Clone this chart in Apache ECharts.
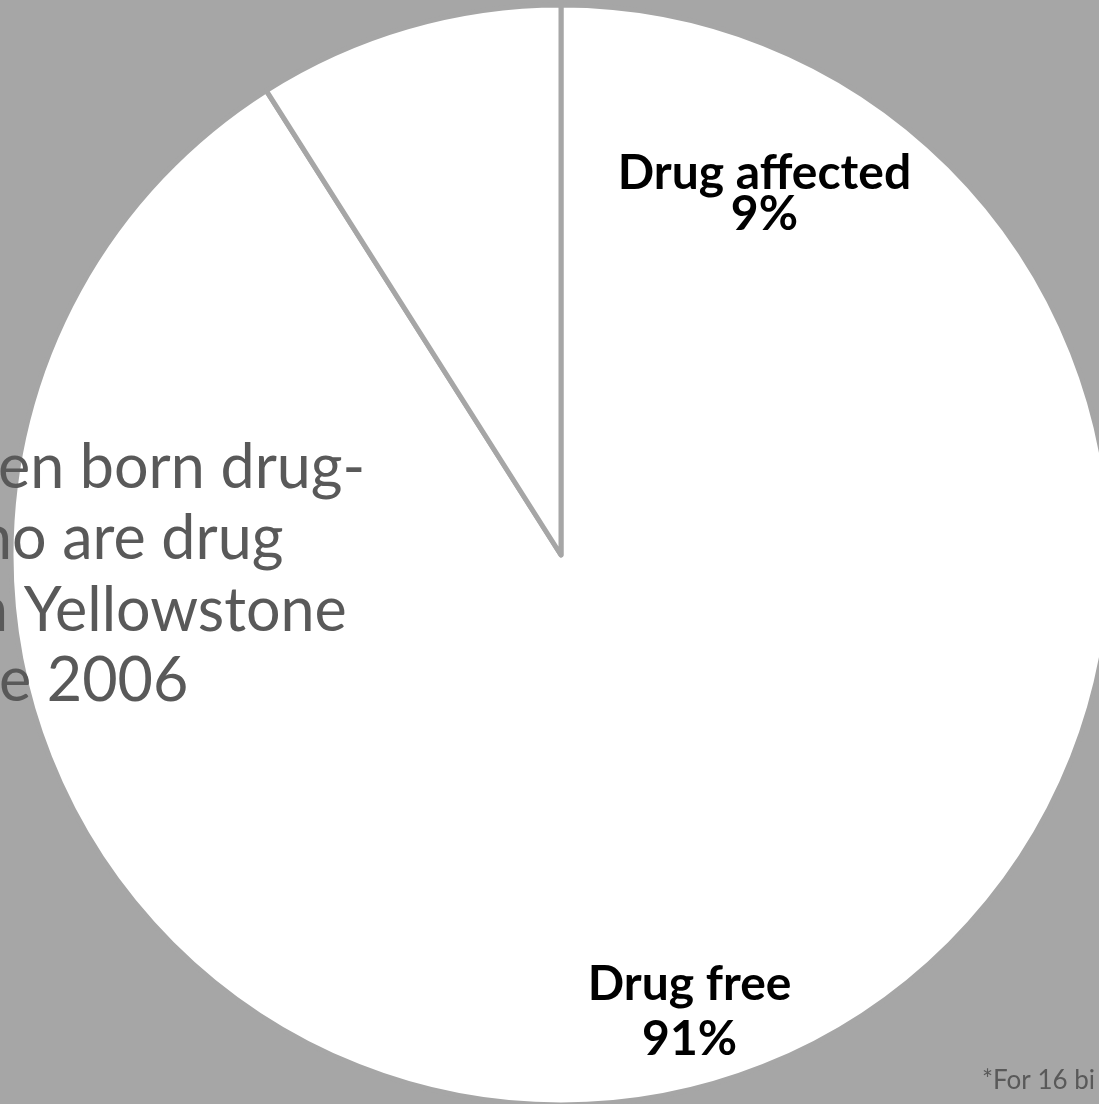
<!DOCTYPE html>
<html>
<head>
<meta charset="utf-8">
<title>Drug free births</title>
<script src="https://cdn.jsdelivr.net/npm/echarts@6/dist/echarts.min.js"></script>
<style>
  html, body { margin: 0; padding: 0; background: #a6a6a6; }
  #chart { width: 1099px; height: 1104px; }
</style>
</head>
<body>
<div id="chart"></div>
<script>
// Slices, drawn clockwise from 12 o'clock
const categories = ['Drug free', 'Drug affected'];
const shares = [91, 9];

// Heading lines (left side) and footnote
const headingLines = ['en born drug-', 'ho are drug', 'n Yellowstone', 'e 2006'];
const footnote = '*For 16 bi';

const BG = '#a6a6a6';
const INK = '#595959';

// Per-slice label placement relative to the slice's inner anchor
const labelOffsets = [[51, 190], [281, -94]];
const labelLineHeights = [55, 41];

const chart = echarts.init(document.getElementById('chart'), null, { renderer: 'canvas' });

const headingX = [-2, -22, -26, -1];
const headingY = [468, 539, 611, 681];

const graphics = headingLines.map((t, i) => ({
  type: 'text',
  z: 100,
  x: headingX[i],
  y: headingY[i],
  style: {
    text: t,
    fill: INK,
    font: '61px Lato',
    textAlign: 'left',
    textVerticalAlign: 'middle'
  }
}));
graphics.push({
  type: 'text',
  z: 100,
  x: 982,
  y: 1081,
  style: {
    text: footnote,
    fill: INK,
    font: '26px Lato',
    textAlign: 'left',
    textVerticalAlign: 'middle'
  }
});

chart.setOption({
  backgroundColor: BG,
  animation: false,
  graphic: graphics,
  series: [{
    type: 'pie',
    center: [561, 555],
    radius: 550,
    startAngle: 90,
    clockwise: true,
    silent: true,
    itemStyle: { color: '#ffffff', borderColor: BG, borderWidth: 5 },
    label: {
      show: true,
      position: 'inside',
      color: '#000000',
      fontFamily: 'Lato',
      fontWeight: 'bold',
      fontSize: 48,
      align: 'center',
      formatter: p => p.name + '\n' + p.value + '%'
    },
    labelLine: { show: false },
    data: categories.map((c, i) => ({
      name: c,
      value: shares[i],
      label: { offset: labelOffsets[i], lineHeight: labelLineHeights[i] }
    }))
  }]
});
</script>
</body>
</html>
